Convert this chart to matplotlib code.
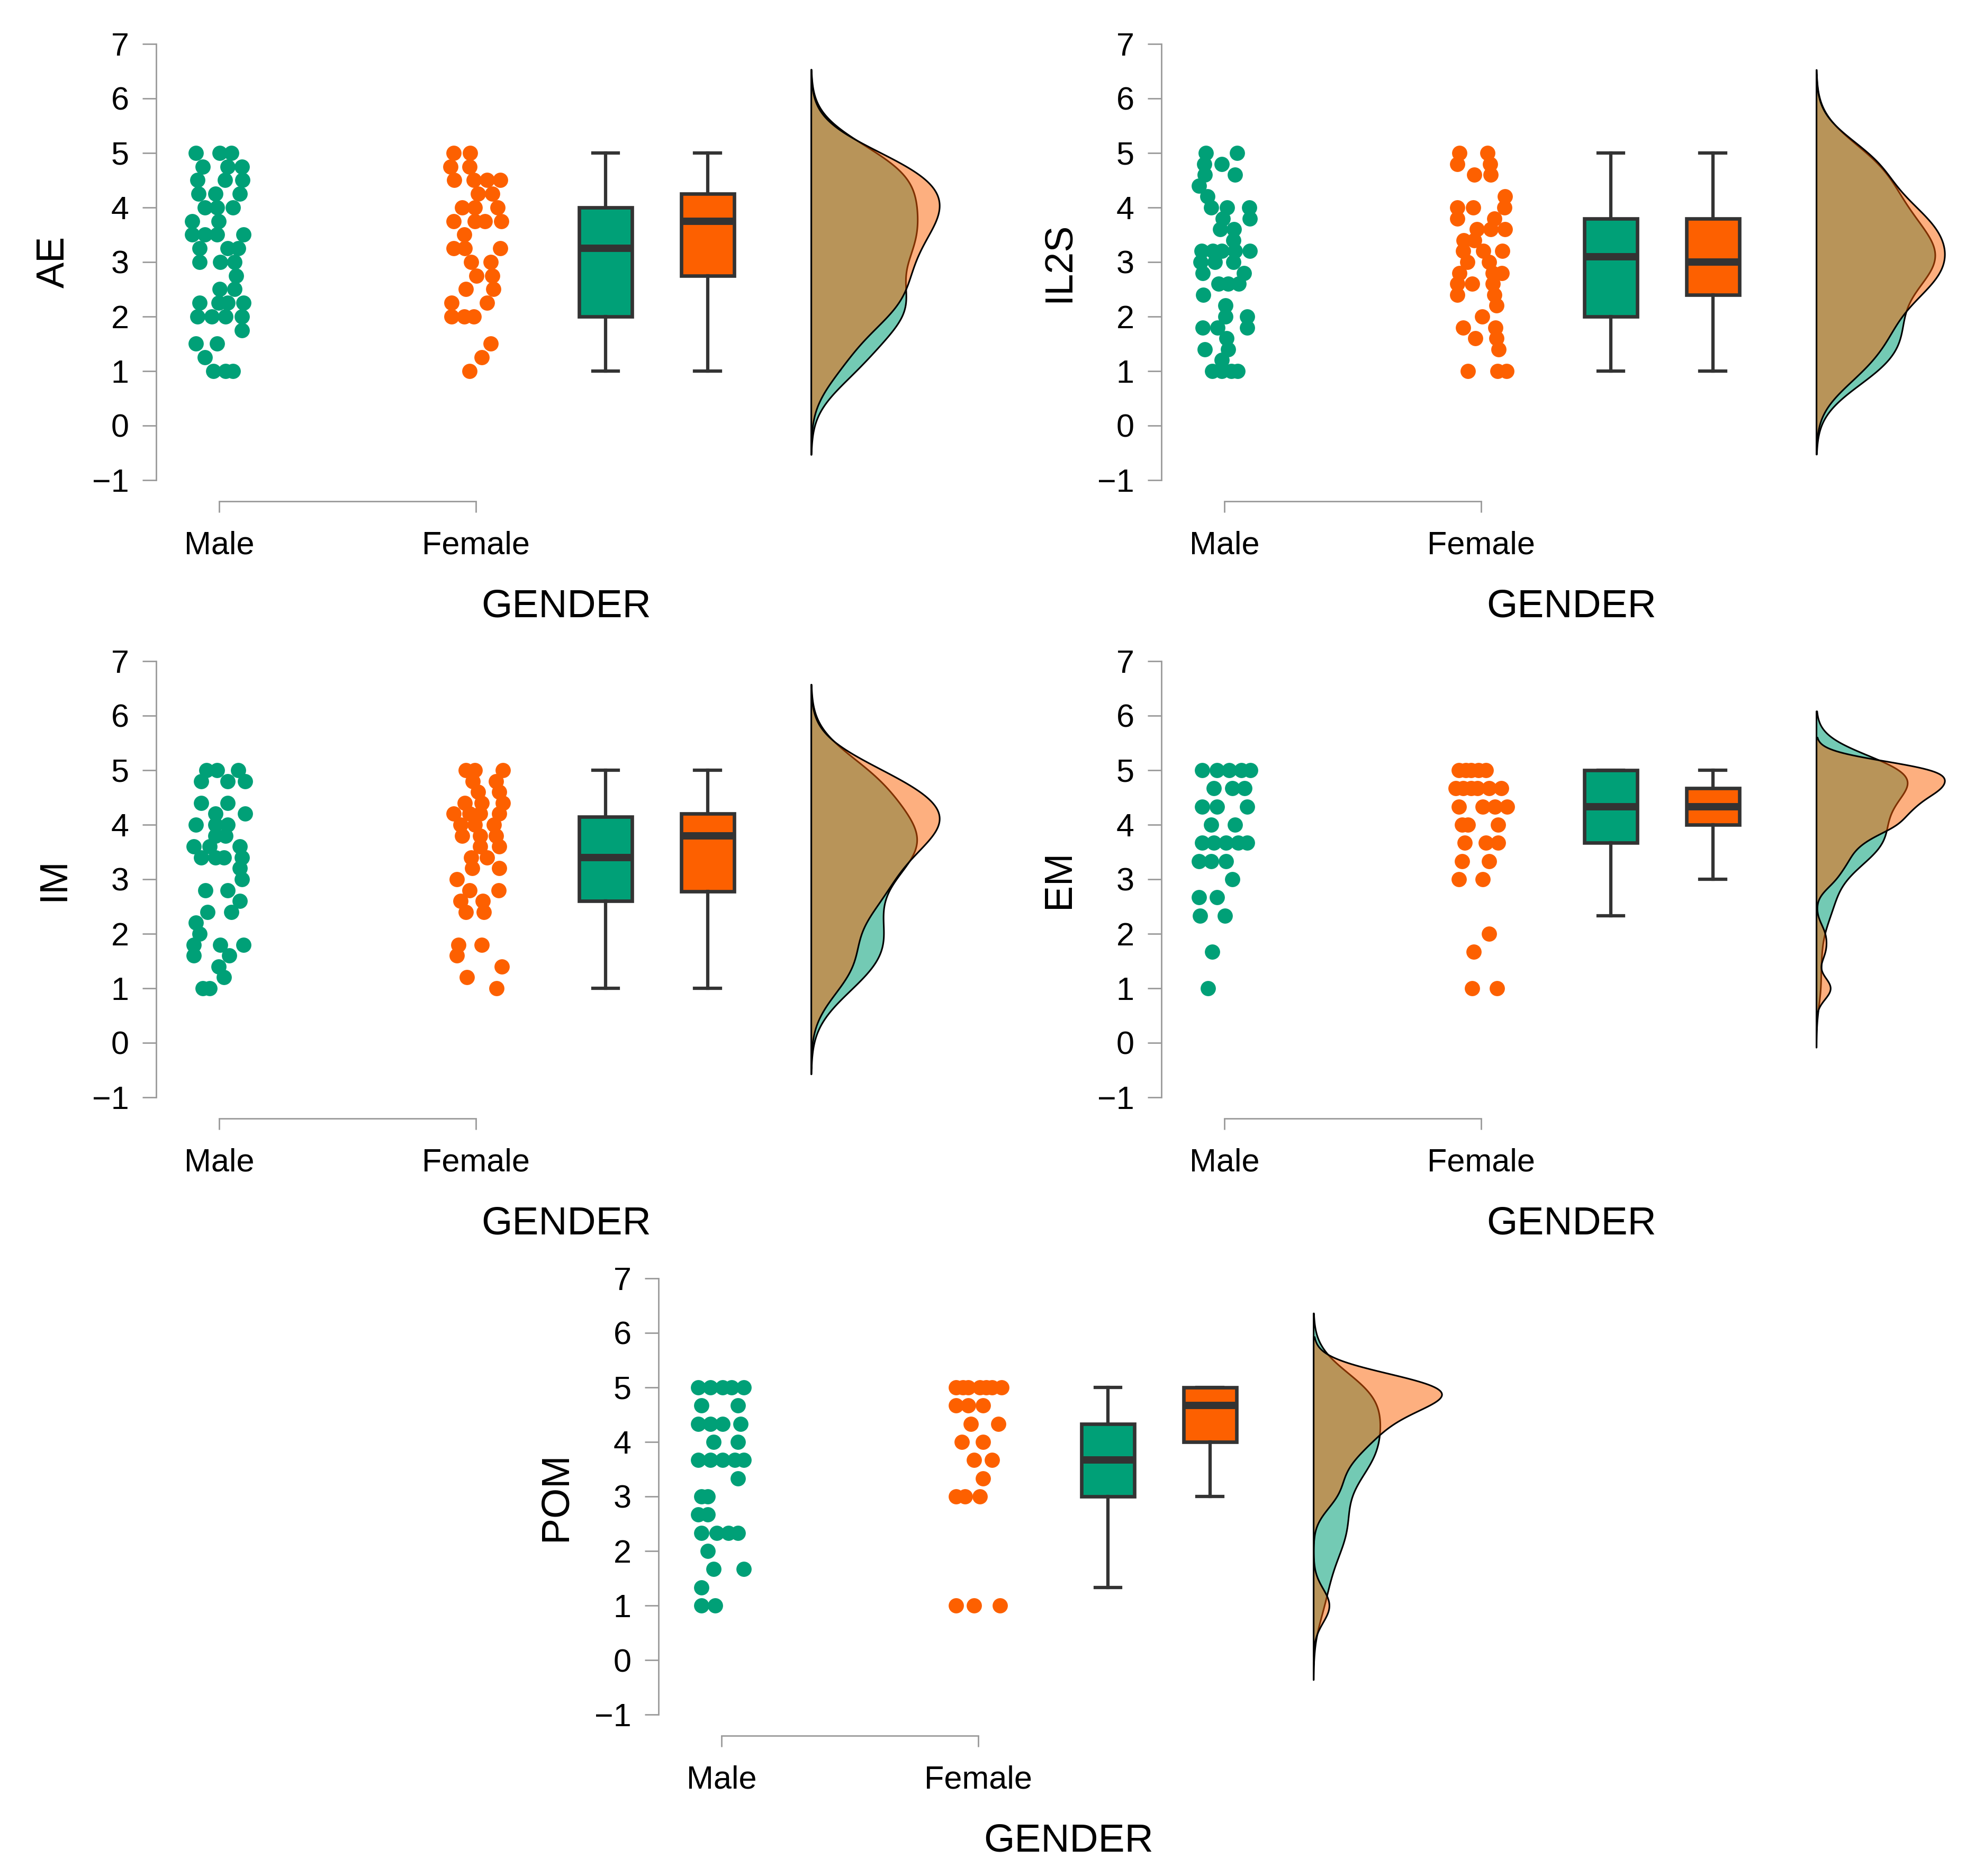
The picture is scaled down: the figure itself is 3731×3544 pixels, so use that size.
import numpy as np
import matplotlib
matplotlib.use('Agg')
import matplotlib.pyplot as plt
from matplotlib.colors import to_rgba

plt.rcParams['font.family'] = ['Liberation Sans', 'DejaVu Sans']

# ---------------- data ----------------
GROUPS = ['Male', 'Female']
XLABEL = 'GENDER'
VARIABLES = ['AE', 'IL2S', 'IM', 'EM', 'POM']

AE_male_val = [5, 5, 5, 4.75, 4.75, 4.75, 4.5, 4.5, 4.5, 4.25, 4.25, 4.25, 4, 4, 4,
               3.75, 3.75, 3.5, 3.5, 3.5, 3.5, 3.25, 3.25, 3.25, 3, 3, 3, 2.75,
               2.5, 2.5, 2.25, 2.25, 2.25, 2.25, 2, 2, 2, 2, 1.75, 1.5, 1.5, 1.25, 1, 1, 1]
AE_male_jit = [-0.091, 0.002, 0.047, -0.063, 0.033, 0.088, -0.084, 0.023, 0.091,
               -0.080, -0.015, 0.081, -0.056, -0.008, 0.054, -0.104, -0.001,
               -0.104, -0.056, -0.008, 0.095, -0.077, 0.033, 0.074, -0.077, 0.005, 0.060,
               0.067, 0.002, 0.060, -0.077, -0.001, 0.033, 0.095, -0.084, -0.029, 0.026, 0.088,
               0.088, -0.091, -0.008, -0.056, -0.022, 0.026, 0.054]
AE_female_val = [5, 5, 4.75, 4.75, 4.5, 4.5, 4.5, 4.5, 4.25, 4.25, 4, 4, 4,
                 3.75, 3.75, 3.75, 3.75, 3.5, 3.25, 3.25, 3.25, 3, 3, 2.75, 2.75,
                 2.5, 2.5, 2.25, 2.25, 2, 2, 2, 1.5, 1.25, 1]
AE_female_jit = [-0.087, -0.022, -0.098, -0.025, -0.084, -0.008, 0.043, 0.095, 0.009, 0.064,
                 -0.053, -0.005, 0.085, -0.087, -0.005, 0.036, 0.098, -0.046,
                 -0.087, -0.043, 0.095, -0.019, 0.057, 0.002, 0.064, -0.039, 0.067,
                 -0.094, 0.043, -0.094, -0.046, -0.008, 0.057, 0.023, -0.025]

IL2S_male_val = [5, 5, 4.8, 4.8, 4.6, 4.6, 4.4, 4.2, 4, 4, 4, 3.8, 3.8, 3.6, 3.6, 3.4,
                 3.2, 3.2, 3.2, 3.2, 3.2, 3, 3, 3, 2.8, 2.8, 2.6, 2.6, 2.6, 2.4, 2.2,
                 2, 2, 1.8, 1.8, 1.8, 1.6, 1.4, 1.4, 1.2, 1, 1, 1, 1]
IL2S_male_jit = [-0.071, 0.050, -0.078, -0.010, -0.075, 0.042, -0.099, -0.065,
                 -0.051, 0.011, 0.097, -0.006, 0.100, -0.016, 0.038, 0.035,
                 -0.089, -0.044, -0.010, 0.042, 0.100, -0.092, -0.037, 0.035,
                 -0.085, 0.076, -0.023, 0.014, 0.056, -0.082, 0.004,
                 0.004, 0.090, -0.085, -0.027, 0.090, 0.008, -0.075, 0.014, -0.010,
                 -0.047, -0.010, 0.028, 0.052]
IL2S_female_val = [5, 5, 4.8, 4.8, 4.6, 4.6, 4.2, 4, 4, 4, 3.8, 3.8, 3.6, 3.6, 3.6,
                   3.4, 3.4, 3.2, 3.2, 3.2, 3, 3, 2.8, 2.8, 2.8, 2.6, 2.6, 2.6,
                   2.4, 2.4, 2.2, 2, 1.8, 1.8, 1.6, 1.6, 1.4, 1, 1, 1]
IL2S_female_jit = [-0.085, 0.025, -0.092, 0.035, -0.027, 0.038, 0.093,
                   -0.092, -0.030, 0.090, -0.092, 0.052, -0.016, 0.038, 0.093,
                   -0.068, -0.027, -0.071, 0.008, 0.083, -0.054, 0.032,
                   -0.085, 0.045, 0.080, -0.092, -0.034, 0.045, -0.092, 0.052,
                   0.059, 0.004, -0.071, 0.056, -0.023, 0.059, 0.069, -0.051, 0.063, 0.100]

IM_male_val = [5, 5, 5, 4.8, 4.8, 4.8, 4.4, 4.4, 4.2, 4.2, 4, 4, 4, 3.8, 3.8,
               3.6, 3.6, 3.6, 3.4, 3.4, 3.4, 3.4, 3.2, 3, 2.8, 2.8, 2.6, 2.4, 2.4,
               2.2, 2, 1.8, 1.8, 1.8, 1.6, 1.6, 1.4, 1.2, 1, 1]
IM_male_jit = [-0.049, -0.008, 0.074, -0.070, 0.033, 0.102, -0.070, 0.033, -0.015, 0.102,
               -0.091, -0.015, 0.033, -0.015, 0.026, -0.098, -0.036, 0.081,
               -0.070, -0.015, 0.019, 0.088, 0.081, 0.088, -0.053, 0.033, 0.081,
               -0.046, 0.047, -0.091, -0.077, -0.098, 0.005, 0.095, -0.098, 0.040,
               -0.001, 0.019, -0.063, -0.036]
IM_female_val = [5, 5, 5, 4.8, 4.8, 4.6, 4.6, 4.4, 4.4, 4.4, 4.2, 4.2, 4.2, 4.2,
                 4, 4, 4, 3.8, 3.8, 3.8, 3.6, 3.6, 3.4, 3.4, 3.2, 3.2, 3, 2.8, 2.8,
                 2.6, 2.6, 2.4, 2.4, 1.8, 1.8, 1.6, 1.4, 1.2, 1]
IM_female_jit = [-0.039, -0.005, 0.105, -0.012, 0.078, 0.009, 0.091, -0.043, 0.023, 0.105,
                 -0.087, -0.025, 0.016, 0.091, -0.060, -0.005, 0.071, -0.053, 0.016, 0.078,
                 0.016, 0.091, -0.019, 0.043, -0.015, 0.091, -0.074, -0.025, 0.088,
                 -0.060, 0.026, -0.039, 0.030, -0.067, 0.023, -0.074, 0.102, -0.036, 0.081]

EM_male_val = [5, 5, 5, 5, 5, 4.667, 4.667, 4.667, 4.333, 4.333, 4.333, 4, 4,
               3.667, 3.667, 3.667, 3.667, 3.667, 3.333, 3.333, 3.333, 3,
               2.667, 2.667, 2.333, 2.333, 1.667, 1]
EM_male_jit = [-0.087, -0.028, 0.019, 0.066, 0.101, -0.040, 0.031, 0.078,
               -0.087, -0.028, 0.089, -0.052, 0.042, -0.087, -0.040, 0.007, 0.054, 0.089,
               -0.099, -0.052, 0.007, 0.031, -0.099, -0.028, -0.094, 0.002, -0.047, -0.064]
# estimated number of overlapping observations hidden under each visible dot
EM_male_cnt = [3, 3, 3, 4, 3, 3, 3, 2, 3, 3, 2, 3, 3, 2, 2, 2, 2, 1, 2, 2, 1, 2,
               1, 1, 1, 1, 1, 1]
EM_female_val = [5, 5, 5, 5, 5, 4.667, 4.667, 4.667, 4.667, 4.667, 4.667,
                 4.333, 4.333, 4.333, 4.333, 4, 4, 4, 3.667, 3.667, 3.667,
                 3.333, 3.333, 3, 3, 2, 1.667, 1, 1]
EM_female_jit = [-0.087, -0.060, -0.040, -0.010, 0.019, -0.099, -0.070, -0.040, -0.015, 0.030, 0.078,
                 -0.087, 0.007, 0.054, 0.101, -0.075, -0.052, 0.066, -0.064, 0.019, 0.066,
                 -0.075, 0.031, -0.087, 0.007, 0.031, -0.028, -0.035, 0.061]
EM_female_cnt = [3, 3, 3, 2, 2, 2, 2, 2, 2, 2, 2, 2, 2, 3, 2, 3, 3, 2, 1, 2, 1,
                 2, 1, 1, 1, 1, 1, 1, 1]

POM_male_val = [5, 5, 5, 5, 5, 4.667, 4.667, 4.333, 4.333, 4.333, 4.333, 4, 4,
                3.667, 3.667, 3.667, 3.667, 3.667, 3.333, 3, 3, 2.667, 2.667,
                2.333, 2.333, 2.333, 2.333, 2, 1.667, 1.667, 1.333, 1, 1]
POM_male_jit = [-0.090, -0.042, 0.005, 0.040, 0.087, -0.078, 0.064,
                -0.090, -0.042, 0.005, 0.075, -0.031, 0.064,
                -0.090, -0.042, 0.005, 0.052, 0.087, 0.064, -0.078, -0.054, -0.090, -0.054,
                -0.078, -0.019, 0.028, 0.064, -0.054, -0.031, 0.087, -0.078, -0.078, -0.024]
POM_male_cnt = [2, 2, 2, 2, 2, 3, 2, 2, 2, 2, 2, 3, 2, 2, 2, 2, 2, 1, 3, 2, 1, 2, 1,
                2, 1, 1, 1, 2, 1, 1, 1, 1, 1]
POM_female_val = [5, 5, 5, 5, 5, 5, 5, 4.667, 4.667, 4.667, 4.333, 4.333, 4, 4,
                  3.667, 3.667, 3.333, 3, 3, 3, 1, 1, 1]
POM_female_jit = [-0.087, -0.060, -0.040, 0.007, 0.030, 0.054, 0.090, -0.087, -0.040, 0.019,
                  -0.028, 0.078, -0.064, 0.019, -0.017, 0.054, 0.019,
                  -0.087, -0.052, 0.007, -0.087, -0.017, 0.085]
POM_female_cnt = [3, 3, 3, 3, 2, 2, 2, 3, 3, 2, 3, 3, 3, 2, 2, 1, 2, 1, 1, 1, 1, 1, 1]

# box statistics: [whisker low, Q1, median, Q3, whisker high]
AE_box = [[1, 2.0, 3.25, 4.0, 5], [1, 2.75, 3.75, 4.25, 5]]
IL2S_box = [[1, 2.0, 3.1, 3.8, 5], [1, 2.4, 3.0, 3.8, 5]]
IM_box = [[1, 2.6, 3.4, 4.15, 5], [1, 2.78, 3.8, 4.2, 5]]
EM_box = [[2.333, 3.667, 4.333, 5.0, 5.0], [3.0, 4.0, 4.333, 4.667, 5.0]]
POM_box = [[1.333, 3.0, 3.667, 4.333, 5.0], [3.0, 4.0, 4.667, 5.0, 5.0]]

PANELS = [
    ('AE', AE_male_val, AE_male_jit, None, AE_female_val, AE_female_jit, None, AE_box),
    ('IL2S', IL2S_male_val, IL2S_male_jit, None, IL2S_female_val, IL2S_female_jit, None, IL2S_box),
    ('IM', IM_male_val, IM_male_jit, None, IM_female_val, IM_female_jit, None, IM_box),
    ('EM', EM_male_val, EM_male_jit, EM_male_cnt, EM_female_val, EM_female_jit, EM_female_cnt, EM_box),
    ('POM', POM_male_val, POM_male_jit, POM_male_cnt, POM_female_val, POM_female_jit, POM_female_cnt, POM_box),
]

# ---------------- style / layout ----------------
GREEN = '#00A077'
ORANGE = '#FD6000'
DARK = '#333333'
SPINE = '#9a9a9a'

AX_POS = {
    'AE': (0.07907, 0.74408),
    'IL2S': (0.58804, 0.74408),
    'IM': (0.07907, 0.41507),
    'EM': (0.58804, 0.41507),
    'POM': (0.33342, 0.08606),
}
AX_W, AX_H = 0.41544, 0.23251
BOX_POS = [1.505, 1.902]
DENS_BASE = 2.305
DENS_MAXW = 0.5


def kde(vals, cnt=None):
    v = np.asarray(vals, dtype=float)
    if cnt is not None:
        v = np.repeat(v, cnt)
    n = len(v)
    sd = v.std(ddof=1)
    q75, q25 = np.percentile(v, [75, 25])
    iqr = q75 - q25
    lo = min(sd, iqr / 1.34) if iqr > 0 else sd
    bw = 0.9 * lo * n ** -0.2
    grid = np.linspace(v.min() - 3 * bw, v.max() + 3 * bw, 600)
    dens = np.exp(-0.5 * ((grid[:, None] - v[None, :]) / bw) ** 2).sum(1) / (n * bw * np.sqrt(2 * np.pi))
    return grid, dens


fig = plt.figure(figsize=(37.31, 35.44), dpi=100)

for name, mv, mj, mc, fv, fj, fc, box in PANELS:
    l, b = AX_POS[name]
    ax = fig.add_axes([l, b, AX_W, AX_H])
    ax.set_xlim(-0.245, 2.95)
    ax.set_ylim(-1, 7)

    # densities (half violins)
    gm, dm = kde(mv, mc)
    gf, df = kde(fv, fc)
    scale = DENS_MAXW / max(dm.max(), df.max())
    ax.fill_betweenx(gm, DENS_BASE, DENS_BASE + dm * scale,
                     facecolor=to_rgba(GREEN, 0.55), edgecolor='black', linewidth=2.2, zorder=2)
    ax.fill_betweenx(gf, DENS_BASE, DENS_BASE + df * scale,
                     facecolor=to_rgba(ORANGE, 0.5), edgecolor='black', linewidth=2.2, zorder=2)

    # jittered points
    ax.scatter(0 + np.asarray(mj), mv, s=430, color=GREEN, linewidths=0, zorder=3)
    ax.scatter(1 + np.asarray(fj), fv, s=430, color=ORANGE, linewidths=0, zorder=3)

    # boxplots
    stats = []
    for bx in box:
        stats.append(dict(whislo=bx[0], q1=bx[1], med=bx[2], q3=bx[3], whishi=bx[4], fliers=[]))
    bp = ax.bxp(stats, positions=BOX_POS, widths=0.206, capwidths=0.1,
                patch_artist=True, showfliers=False, manage_ticks=False,
                boxprops=dict(edgecolor=DARK, linewidth=4.8),
                medianprops=dict(color=DARK, linewidth=10, solid_capstyle='butt'),
                whiskerprops=dict(color=DARK, linewidth=4.5),
                capprops=dict(color=DARK, linewidth=4.5))
    for patch, col in zip(bp['boxes'], [GREEN, ORANGE]):
        patch.set_facecolor(col)
        patch.set_zorder(4)
    for ln in bp['medians'] + bp['whiskers'] + bp['caps']:
        ln.set_zorder(4.5)

    # axes styling
    ax.set_yticks(range(-1, 8))
    ax.set_xticks([0, 1])
    ax.set_xticklabels(GROUPS)
    for s in ['top', 'right']:
        ax.spines[s].set_visible(False)
    ax.spines['left'].set_color(SPINE)
    ax.spines['left'].set_linewidth(2)
    ax.spines['bottom'].set_color(SPINE)
    ax.spines['bottom'].set_linewidth(2)
    ax.spines['bottom'].set_position(('outward', 29))
    ax.spines['bottom'].set_bounds(0, 1)
    ax.tick_params(axis='y', length=19, width=2, color=SPINE, pad=18, labelsize=44, labelcolor='black')
    ax.tick_params(axis='x', length=15, width=2, color=SPINE, pad=25, labelsize=44, labelcolor='black')

    ax.set_xlabel(XLABEL, fontsize=54)
    ax.xaxis.set_label_coords(0.5, -0.29)
    ax.xaxis.label.set_va('center')
    ax.set_ylabel(name, fontsize=53)
    ax.yaxis.set_label_coords(-0.125, 0.5)
    ax.yaxis.label.set_va('center')

fig.savefig('out.png', dpi=100)
